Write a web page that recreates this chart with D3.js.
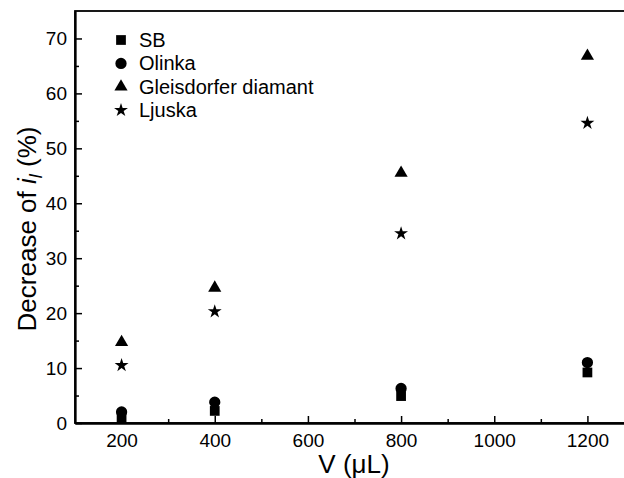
<!DOCTYPE html>
<html>
<head>
<meta charset="utf-8">
<script src="https://d3js.org/d3.v7.min.js"></script>
<style>
  body { margin: 0; background: #fff; }
  text { font-family: "Liberation Sans", Arial, sans-serif; fill: #000; }
</style>
</head>
<body>
<div id="graph"></div>
<script>

    // volumes (µL)
    var volumes = [200, 400, 800, 1200];

    var sb = [0.9, 2.2, 4.9, 9.2];
    var olinka = [2.0, 3.8, 6.3, 11.0];
    var gleisdorfer = [14.7, 24.6, 45.5, 66.8];
    var ljuska = [10.5, 20.3, 34.5, 54.6];

    var seriesNames = ["SB", "Olinka", "Gleisdorfer diamant", "Ljuska"];
    var xTicks = [200, 400, 600, 800, 1000, 1200];
    var yTicks = [0, 10, 20, 30, 40, 50, 60, 70];

    var series = [
        { name: seriesNames[0], values: sb, symbol: d3.symbolSquare, size: 95 },
        { name: seriesNames[1], values: olinka, symbol: d3.symbolCircle, size: 100 },
        { name: seriesNames[2], values: gleisdorfer, symbol: d3.symbolTriangle, size: 75 },
        { name: seriesNames[3], values: ljuska, symbol: d3.symbolStar, size: 60 }
    ];

    var width = 624, height = 478;

    var svg = d3.select("#graph")
        .append("svg")
        .attr("width", width)
        .attr("height", height);

    var x = d3.scaleLinear()
        .domain([100, 1300])
        .range([75, 634]);

    var y = d3.scaleLinear()
        .domain([0, 75])
        .range([423, 11]);

    // frame
    svg.append("rect")
        .attr("x", x(100))
        .attr("y", y(75))
        .attr("width", x(1300) - x(100))
        .attr("height", y(0) - y(75))
        .attr("fill", "none")
        .attr("stroke", "#000")
        .attr("stroke-width", 1.8);

    // minor ticks
    var xMinor = d3.range(300, 1300, 200);
    var yMinor = d3.range(5, 75, 10);

    svg.append("g")
        .attr("transform", "translate(0," + y(0) + ")")
        .call(d3.axisBottom(x).tickValues(xTicks).tickFormat(d3.format("d"))
            .tickSizeInner(-7).tickSizeOuter(0).tickPadding(11));
    svg.append("g")
        .attr("transform", "translate(0," + y(0) + ")")
        .call(d3.axisBottom(x).tickValues(xMinor).tickSizeInner(-4).tickSizeOuter(0).tickFormat(""));

    svg.append("g")
        .attr("transform", "translate(" + x(100) + ",0)")
        .call(d3.axisLeft(y).tickValues(yTicks).tickSizeInner(-7).tickSizeOuter(0).tickPadding(8));
    svg.append("g")
        .attr("transform", "translate(" + x(100) + ",0)")
        .call(d3.axisLeft(y).tickValues(yMinor).tickSizeInner(-4).tickSizeOuter(0).tickFormat(""));

    svg.selectAll(".domain").attr("stroke-width", 1.8);
    svg.selectAll(".tick line").attr("stroke-width", 1.5);
    svg.selectAll(".tick text")
        .style("font-size", "19px")
        .style("font-family", "'Liberation Sans', Arial, sans-serif");

    // axis titles
    svg.append("text")
        .attr("x", 354)
        .attr("y", 473)
        .attr("text-anchor", "middle")
        .style("font-size", "26px")
        .text("V (\u03BCL)");

    var ylab = svg.append("text")
        .attr("transform", "translate(36,229) rotate(-90)")
        .attr("text-anchor", "middle")
        .style("font-size", "26px");
    ylab.append("tspan").text("Decrease of ");
    ylab.append("tspan").style("font-style", "italic").text("i");
    ylab.append("tspan").style("font-style", "italic").style("font-size", "18px").attr("dy", 6).text("l");
    ylab.append("tspan").attr("dy", -6).text(" (%)");

    // points
    series.forEach(function (s) {
        svg.append("g")
            .selectAll("path")
            .data(s.values)
            .enter()
            .append("path")
            .attr("d", d3.symbol().type(s.symbol).size(s.size))
            .attr("transform", function (d, i) { return "translate(" + x(volumes[i]) + "," + y(d) + ")"; })
            .attr("fill", "#000");
    });

    // legend
    var legend = svg.append("g");
    series.forEach(function (s, i) {
        var ly = 40 + i * 23.4;
        legend.append("path")
            .attr("d", d3.symbol().type(s.symbol).size(s.size))
            .attr("transform", "translate(121," + ly + ")")
            .attr("fill", "#000");
        legend.append("text")
            .attr("x", 139)
            .attr("y", ly + 7)
            .style("font-size", "20px")
            .text(s.name);
    });

</script>
</body>
</html>
